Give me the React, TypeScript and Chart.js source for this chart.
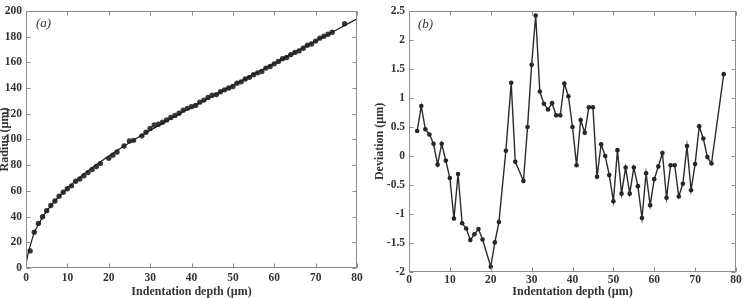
import React, { useEffect, useRef } from 'react';
import { Chart, registerables } from 'chart.js';

Chart.register(...registerables);

const FONT = '"Liberation Serif", "Times New Roman", serif';
const INK = '#333333';
const FRAME = '#8c8c8c';

// Fitted radius curve (µm) sampled along the indentation depth (µm)
const fitDepth = [0, 0.5, 1, 2, 3, 4, 5, 6, 7, 8, 9, 10, 12, 15, 20, 25, 30, 35, 40, 45, 50, 55, 60, 65, 70, 75, 80];
const fitRadius = [3, 11, 17, 27.5, 33.8, 39.4, 44.2, 48.4, 52.2, 55.7, 59.0, 62.1, 67.8, 75.6, 87.2, 97.5, 107, 116.2, 125, 133.6, 142, 150.6, 159.2, 167.9, 176.6, 185.2, 193.8];

// Measured contact radius (µm) against indentation depth (µm)
const radiusDepth = [1, 2, 3, 4, 5, 6, 7, 8, 9, 10, 11, 12, 13, 14, 15, 16, 17, 18, 20, 21, 22, 23.7, 25, 26, 28, 29, 30, 31, 32, 33, 34, 35, 36, 37, 38, 39, 40, 41, 42, 43, 44, 45, 46, 47, 48, 49, 50, 51, 52, 53, 54, 55, 56, 57, 58, 59, 60, 61, 62, 63, 64, 65, 66, 67, 68, 69, 70, 71, 72, 73, 74, 77];
const radius = [13.3, 27.9, 34.7, 39.9, 44.6, 48.6, 52.1, 55.9, 58.9, 61.7, 63.9, 67.5, 69.2, 71.8, 74.2, 76.6, 78.9, 81.2, 85.3, 87.8, 90.2, 94.9, 98.8, 99.3, 102.8, 105.6, 108.6, 111.2, 111.8, 113.4, 115.2, 117.1, 118.7, 120.4, 122.8, 124.2, 125.5, 126.5, 129.0, 130.6, 132.7, 134.4, 134.9, 137.1, 138.6, 140.0, 141.2, 143.8, 144.8, 147.0, 148.3, 150.4, 151.8, 152.9, 155.5, 156.7, 158.8, 160.7, 162.8, 163.7, 166.0, 167.7, 168.9, 170.9, 173.3, 174.3, 176.5, 178.8, 180.3, 181.8, 183.4, 190.1];

// Deviation of the measured radius from the fit (µm)
const deviationDepth = [2, 3, 4, 5, 6, 7, 8, 9, 10, 11, 12, 13, 14, 15, 16, 17, 18, 20, 21, 22, 23.7, 25, 26, 28, 29, 30, 31, 32, 33, 34, 35, 36, 37, 38, 39, 40, 41, 42, 43, 44, 45, 46, 47, 48, 49, 50, 51, 52, 53, 54, 55, 56, 57, 58, 59, 60, 61, 62, 63, 64, 65, 66, 67, 68, 69, 70, 71, 72, 73, 74, 77];
const deviation = [0.43, 0.86, 0.46, 0.37, 0.21, -0.15, 0.21, -0.08, -0.38, -1.08, -0.31, -1.16, -1.25, -1.45, -1.35, -1.26, -1.44, -1.91, -1.49, -1.14, 0.09, 1.26, -0.10, -0.43, 0.50, 1.57, 2.42, 1.11, 0.90, 0.80, 0.91, 0.70, 0.70, 1.25, 1.03, 0.50, -0.16, 0.62, 0.40, 0.84, 0.84, -0.36, 0.20, 0.00, -0.33, -0.78, 0.10, -0.65, -0.20, -0.65, -0.20, -0.52, -1.07, -0.30, -0.85, -0.40, -0.18, 0.05, -0.72, -0.16, -0.16, -0.70, -0.48, 0.17, -0.59, -0.14, 0.51, 0.30, -0.02, -0.13, 1.41];

// Axis ranges and tick steps
const depthRange = [0, 80];
const depthStep = 10;
const radiusRange = [0, 200];
const radiusStep = 20;
const deviationRange = [-2, 2.5];
const deviationStep = 0.5;

const xTitle = 'Indentation depth (µm)';

const pairs = (xs: number[], ys: number[]) => xs.map((x, i) => ({ x, y: ys[i] }));

// Box frame with inward tick marks on all four sides, plus the panel tag
const framePlugin = {
  id: 'frame',
  afterDraw(chart: any, _args: any, opts: any) {
    const { ctx, chartArea: a, scales } = chart;
    const L = Math.round(a.left) + 0.5;
    const R = Math.round(a.right) - 0.5;
    const T = Math.round(a.top) + 0.5;
    const B = Math.round(a.bottom) - 0.5;
    const len = 4;
    ctx.save();
    ctx.strokeStyle = FRAME;
    ctx.lineWidth = 1;
    ctx.strokeRect(L, T, R - L, B - T);
    ctx.beginPath();
    scales.x.ticks.forEach((t: any) => {
      const p = Math.round(scales.x.getPixelForValue(t.value)) + 0.5;
      ctx.moveTo(p, B);
      ctx.lineTo(p, B - len);
      ctx.moveTo(p, T);
      ctx.lineTo(p, T + len);
    });
    scales.y.ticks.forEach((t: any) => {
      const p = Math.round(scales.y.getPixelForValue(t.value)) + 0.5;
      ctx.moveTo(L, p);
      ctx.lineTo(L + len, p);
      ctx.moveTo(R, p);
      ctx.lineTo(R - len, p);
    });
    ctx.stroke();
    if (opts && opts.tag) {
      ctx.font = `italic 13px ${FONT}`;
      ctx.fillStyle = INK;
      ctx.textBaseline = 'middle';
      ctx.textAlign = 'left';
      ctx.fillText(opts.tag, a.left + opts.dx, a.top + opts.dy);
    }
    ctx.restore();
  },
};

const tickFont = { family: FONT, size: 11.5, weight: 'bold' as const };
const titleFont = { family: FONT, size: 12, weight: 'bold' as const };
const fmt = (v: any) => String(Math.round(Number(v) * 10) / 10);

function xScale(height: number, labelPad: number) {
  return {
    type: 'linear' as const,
    min: depthRange[0],
    max: depthRange[1],
    grid: { display: false, drawTicks: false },
    border: { display: false },
    ticks: { stepSize: depthStep, font: tickFont, color: INK, padding: labelPad, callback: fmt, maxRotation: 0 },
    title: { display: true, text: xTitle, font: titleFont, color: INK, padding: { top: 0, bottom: -1 } },
    afterFit: (s: any) => {
      s.height = height;
    },
  };
}

function yScale(range: number[], step: number, text: string, width: number, titlePad: number) {
  return {
    type: 'linear' as const,
    min: range[0],
    max: range[1],
    grid: { display: false, drawTicks: false },
    border: { display: false },
    ticks: { stepSize: step, font: tickFont, color: INK, padding: 4, callback: fmt },
    title: { display: true, text, font: titleFont, color: INK, padding: { top: titlePad, bottom: 0 } },
    afterFit: (s: any) => {
      s.width = width;
    },
  };
}

function radiusConfig(): any {
  return {
    type: 'scatter',
    data: {
      datasets: [
        {
          type: 'line',
          data: pairs(fitDepth, fitRadius),
          borderColor: '#1a1a1a',
          borderWidth: 1.2,
          pointRadius: 0,
          cubicInterpolationMode: 'monotone',
          fill: false,
        },
        {
          type: 'scatter',
          data: pairs(radiusDepth, radius),
          pointRadius: 2.7,
          pointBackgroundColor: '#383838',
          pointBorderColor: '#383838',
          pointBorderWidth: 0,
          showLine: false,
        },
      ],
    },
    options: {
      animation: false,
      responsive: false,
      devicePixelRatio: 1,
      layout: { padding: { top: 9, right: 13, left: 0, bottom: 0 } },
      plugins: {
        legend: { display: false },
        tooltip: { enabled: false },
        frame: { tag: '(a)', dx: 10, dy: 13 },
      },
      scales: {
        x: xScale(30, 3),
        y: yScale(radiusRange, radiusStep, 'Radius (µm)', 26, -2.5),
      },
    },
    plugins: [framePlugin],
  };
}

function deviationConfig(): any {
  return {
    type: 'line',
    data: {
      datasets: [
        {
          data: pairs(deviationDepth, deviation),
          borderColor: '#2b2b2b',
          borderWidth: 1.4,
          pointRadius: 2.3,
          pointBackgroundColor: '#262626',
          pointBorderColor: '#262626',
          pointBorderWidth: 0,
          tension: 0,
          fill: false,
        },
      ],
    },
    options: {
      animation: false,
      responsive: false,
      devicePixelRatio: 1,
      layout: { padding: { top: 10, right: 10, left: 0, bottom: 0 } },
      plugins: {
        legend: { display: false },
        tooltip: { enabled: false },
        frame: { tag: '(b)', dx: 9, dy: 14 },
      },
      scales: {
        x: xScale(26, 1),
        y: yScale(deviationRange, deviationStep, 'Deviation (µm)', 39, 3),
      },
    },
    plugins: [framePlugin],
  };
}

function Panel({ make, left, width }: { make: () => any; left: number; width: number }) {
  const ref = useRef<HTMLCanvasElement>(null);
  useEffect(() => {
    const chart = new Chart(ref.current as HTMLCanvasElement, make());
    return () => chart.destroy();
  }, [make]);
  return (
    <canvas
      ref={ref}
      width={width}
      height={298}
      style={{ position: 'absolute', left, top: 0, width, height: 298, display: 'block' }}
    />
  );
}

export default function App() {
  return (
    <div style={{ position: 'absolute', left: 0, top: 0, width: 746, height: 298, background: '#ffffff', overflow: 'hidden' }}>
      <Panel make={radiusConfig} left={0} width={370} />
      <Panel make={deviationConfig} left={370} width={376} />
    </div>
  );
}
